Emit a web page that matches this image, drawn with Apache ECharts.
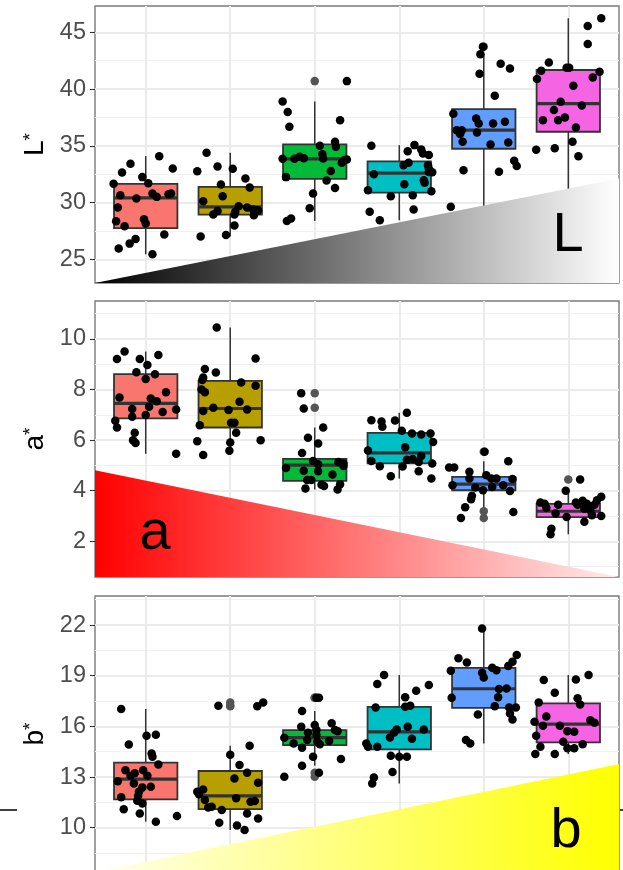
<!DOCTYPE html>
<html><head><meta charset="utf-8">
<script src="https://cdn.jsdelivr.net/npm/echarts@6/dist/echarts.min.js"></script>
<style>html,body{margin:0;padding:0;background:#fff}#c{width:623px;height:870px}</style>
</head><body><div id="c"></div>
<script>
// ---------- data ----------
const groups = [1, 2, 3, 4, 5, 6];

// L*  : box stats [lower whisker, Q1, median, Q3, upper whisker]
const L_box = [
  [25.44, 27.74, 30.41, 31.65, 34.09],
  [27.00, 28.94, 29.62, 31.38, 34.38],
  [28.38, 32.09, 33.85, 35.12, 38.91],
  [28.44, 30.88, 32.59, 33.62, 35.06],
  [29.62, 34.74, 36.38, 38.24, 43.06],
  [30.60, 36.24, 38.71, 41.68, 46.24]
];
const L_outliers = [[3, 40.70], [5, 43.74]];
const L_points = [
  [0.68,25.94],[0.81,26.38],[0.88,26.79],[0.75,27.91],[0.65,28.35],[0.98,28.53],[1.00,28.15],[0.67,29.56],
  [0.70,30.65],[0.62,31.65],[0.72,32.65],[0.82,33.41],[0.96,32.24],[1.03,31.71],[0.89,30.35],[1.08,30.79],
  [1.13,30.50],[1.30,30.79],[1.32,33.00],[1.16,34.09],[1.22,27.18],[1.08,25.44],[1.27,30.74],
  [1.65,27.00],[1.68,30.12],[1.61,32.76],[1.72,34.38],[1.85,33.18],[1.89,31.59],[1.91,30.56],[1.85,29.26],
  [1.80,28.94],[2.03,32.97],[1.95,27.15],[2.05,27.97],[2.05,28.94],[2.10,29.68],[2.06,29.18],[2.18,32.12],
  [2.23,31.32],[2.20,29.56],[2.27,29.38],[2.31,29.32],[2.28,28.88],[2.33,29.30],
  [2.62,38.91],[2.68,37.97],[2.70,36.68],[2.62,33.85],[2.66,32.24],[2.76,33.85],[2.82,34.03],[2.87,33.91],
  [2.67,28.38],[2.72,28.59],[2.94,29.50],[2.98,30.79],[3.06,35.00],[3.09,34.26],[3.10,33.88],[3.14,31.94],
  [3.19,32.79],[3.24,31.29],[3.24,35.35],[3.25,34.91],[3.30,37.26],[3.32,33.50],[3.35,33.74],[3.38,33.79],[3.38,40.70],
  [3.67,35.00],[3.70,32.50],[3.63,31.09],[3.65,29.18],[3.77,28.44],[3.90,30.56],[4.05,33.29],[4.11,33.50],
  [4.06,31.62],[4.10,34.53],[4.16,30.65],[4.17,29.38],[4.18,35.06],[4.26,34.68],[4.28,34.32],[4.35,34.18],
  [4.34,33.29],[4.35,33.00],[4.39,32.68],[4.29,31.97],[4.30,31.74],[4.38,31.00],[4.35,32.70],
  [4.61,29.62],[4.64,37.82],[4.68,36.38],[4.71,36.24],[4.74,36.38],[4.72,36.03],[4.75,35.35],[4.76,32.85],
  [4.91,37.41],[4.94,36.97],[4.92,36.18],[4.95,41.35],[4.96,43.06],[4.99,43.74],[5.08,35.12],[5.11,36.97],
  [5.13,39.41],[5.18,32.71],[5.20,42.24],[5.25,37.12],[5.29,35.29],[5.31,41.82],[5.36,33.68],[5.39,33.21],
  [5.62,34.65],[5.63,40.88],[5.68,41.62],[5.77,42.35],[5.70,37.26],[5.83,38.15],[5.88,37.26],[5.91,38.88],
  [5.96,37.50],[5.84,34.79],[5.98,41.88],[6.01,41.88],[6.06,40.29],[6.05,35.35],[6.09,36.62],[6.12,34.09],
  [6.16,38.56],[6.23,45.56],[6.23,43.97],[6.29,41.03],[6.37,41.53],[6.39,46.24],[5.90,30.60]
];
const L_ticks = [25, 30, 35, 40, 45];
const L_minor = [27.5, 32.5, 37.5, 42.5];

// a*
const a_box = [
  [5.46, 6.86, 7.45, 8.61, 9.50],
  [5.41, 6.50, 7.25, 8.34, 10.45],
  [4.05, 4.39, 5.01, 5.26, 6.50],
  [4.48, 5.08, 5.50, 6.29, 7.08],
  [3.35, 4.02, 4.26, 4.55, 5.17],
  [2.28, 2.96, 3.19, 3.48, 4.00]
];
const a_outliers = [[3, 7.85], [3, 7.28], [5, 5.54], [5, 3.19], [5, 2.92], [6, 4.44]];
const a_points = [
  [0.66,9.21],[0.75,9.50],[0.93,9.21],[1.02,8.97],[1.15,9.37],[0.89,8.68],[1.00,8.42],[1.11,8.60],
  [1.24,7.89],[0.69,7.69],[1.06,7.65],[1.13,7.54],[1.04,7.32],[0.84,7.23],[1.20,7.11],[1.36,7.21],
  [0.84,6.92],[1.00,6.99],[0.64,6.77],[0.66,6.50],[0.87,6.29],[0.85,6.00],[0.88,5.89],[1.36,5.46],
  [1.84,10.45],[1.70,8.81],[1.83,8.67],[1.68,8.48],[1.67,8.38],[2.30,9.23],[2.13,8.28],[2.30,8.15],
  [1.66,8.00],[1.70,7.89],[2.11,7.52],[1.80,7.28],[1.68,7.15],[1.98,7.19],[2.20,7.21],[2.01,6.69],
  [2.05,6.69],[1.64,6.59],[2.07,6.29],[1.61,5.96],[2.00,5.91],[2.36,6.00],[1.99,5.58],[1.68,5.41],
  [2.84,7.85],[2.87,7.25],[3.10,6.50],[2.92,6.09],[3.04,5.87],[2.85,5.49],[2.98,5.18],[2.66,4.90],
  [2.87,4.79],[3.04,5.05],[3.04,4.77],[3.21,4.64],[3.28,5.14],[3.34,4.98],[2.91,4.42],[2.96,4.42],
  [2.89,4.09],[3.08,4.24],[3.11,4.19],[3.30,4.26],[3.27,4.05],[3.34,5.08],
  [3.67,6.79],[3.79,6.74],[3.80,6.53],[3.95,6.78],[4.09,7.08],[4.03,6.37],[4.15,6.26],[4.26,6.22],
  [4.37,6.26],[4.40,5.93],[4.07,5.72],[3.63,5.59],[3.67,5.18],[3.77,4.97],[3.90,4.57],[4.04,4.96],
  [4.09,5.22],[4.16,5.25],[4.23,5.14],[4.26,5.37],[4.23,4.77],[4.39,5.08],[4.38,4.48],
  [4.59,4.92],[4.65,4.92],[4.63,4.22],[4.83,4.75],[4.83,4.48],[4.86,3.80],[4.85,3.66],[4.78,3.35],
  [4.73,2.92],[5.01,5.54],[5.03,4.61],[4.99,4.02],[4.90,4.13],[5.09,4.48],[5.10,4.15],[5.15,4.48],
  [5.23,4.22],[5.29,5.17],[5.31,3.99],[5.34,4.46],[5.35,3.16],
  [5.67,3.53],[5.72,3.49],[5.74,3.33],[5.80,2.50],[5.79,2.28],[5.85,3.10],[5.97,4.00],[5.98,2.96],
  [6.09,3.53],[6.14,4.44],[6.17,3.60],[6.19,3.29],[6.19,2.77],[6.22,3.49],[6.26,3.23],[6.28,3.03],
  [6.31,3.45],[6.34,3.62],[6.39,3.76],[6.39,3.00],[6.11,3.45],[5.88,3.45]
];
const a_ticks = [2, 4, 6, 8, 10];
const a_minor = [1, 3, 5, 7, 9, 11];

// b*
const b_box = [
  [10.36, 11.68, 12.88, 13.85, 17.03],
  [9.86, 11.10, 11.89, 13.36, 14.85],
  [13.67, 14.89, 15.33, 15.78, 16.91],
  [12.62, 14.64, 15.68, 17.16, 19.04],
  [14.99, 17.10, 18.23, 19.47, 21.80],
  [14.36, 15.05, 16.14, 17.36, 19.04]
];
const b_outliers = [[2, 17.42], [2, 17.22], [2, 17.20], [3, 17.70], [3, 17.70], [3, 13.26], [3, 13.02]];
const b_points = [
  [0.71,17.03],[1.01,15.45],[1.12,15.51],[0.80,14.93],[1.07,14.40],[1.08,14.20],[1.15,13.75],[0.76,13.41],
  [0.87,13.22],[0.97,13.41],[0.82,13.08],[1.02,13.08],[0.67,12.76],[0.86,12.62],[0.96,12.39],[1.06,12.43],
  [0.92,12.13],[0.71,11.80],[0.90,11.60],[0.96,11.44],[0.74,11.10],[0.93,10.85],[1.12,10.36],[1.37,10.69],[0.91,11.89],
  [1.86,17.22],[2.32,17.20],[2.39,17.42],[2.23,14.85],[2.00,14.32],[2.11,13.71],[2.20,13.26],[2.05,12.92],
  [2.33,12.66],[1.61,12.13],[1.68,12.27],[1.63,11.99],[1.70,11.64],[2.07,11.74],[2.24,11.54],[2.29,11.58],
  [1.74,11.20],[1.78,11.24],[1.90,11.05],[2.20,10.85],[2.33,10.55],[1.87,10.30],[2.08,10.14],[2.17,9.86],
  [2.85,16.91],[2.64,13.02],[2.85,13.67],[2.98,14.20],[3.31,14.07],[3.02,17.70],[3.05,17.70],[3.05,13.26],
  [2.84,15.98],[3.00,16.08],[3.20,16.18],[3.24,15.78],[2.64,15.33],[2.75,14.99],[2.85,14.74],[2.92,15.62],
  [2.91,15.19],[3.02,15.49],[3.03,15.09],[3.06,14.95],[3.17,15.13],[3.27,15.72],[3.02,15.78],
  [3.82,19.04],[3.74,18.51],[4.20,18.11],[4.35,18.45],[4.07,17.72],[4.07,17.16],[4.13,17.22],[3.72,17.12],
  [3.97,15.82],[3.94,15.64],[4.10,15.98],[4.29,15.82],[3.89,15.35],[4.15,15.27],[3.61,14.99],[3.63,14.80],
  [3.74,14.80],[3.90,14.26],[4.00,14.20],[4.09,14.20],[3.92,13.30],[3.70,12.98],[3.68,12.62],
  [4.98,21.80],[4.70,20.03],[4.80,19.79],[4.61,19.30],[4.98,19.18],[5.00,18.90],[5.10,19.47],[5.15,19.33],
  [5.29,19.57],[5.34,19.83],[5.39,20.22],[5.18,18.21],[5.27,18.25],[5.17,17.72],[4.62,17.70],[5.13,17.20],
  [5.30,17.12],[5.38,17.12],[5.31,16.77],[5.34,16.41],[4.93,16.71],[4.79,15.19],[4.84,14.99],
  [5.71,18.74],[6.09,18.78],[6.24,19.04],[5.84,17.99],[6.11,17.66],[6.14,17.30],[5.65,17.42],[5.74,16.59],
  [5.60,16.28],[5.70,16.04],[5.90,16.04],[5.99,15.72],[6.07,15.68],[6.26,16.37],[6.31,16.22],[5.62,15.45],
  [5.94,15.09],[5.67,14.80],[5.99,14.70],[6.07,14.70],[6.17,14.95],[5.61,14.36],[5.84,14.36]
];
const b_ticks = [10, 13, 16, 19, 22];
const b_minor = [8.5, 11.5, 14.5, 17.5, 20.5, 23.5];

// ---------- styling / layout ----------
const FONT = "'Liberation Sans', Arial, Helvetica, sans-serif";
const boxColors = ['#F8766D', '#B79F00', '#00BA38', '#00BFC4', '#619CFF', '#F564E3'];
const panels = [
  { name: 'L', box: L_box, pts: L_points, out: L_outliers, ticks: L_ticks, minor: L_minor,
    min: 22.91, max: 47.32, top: 6, height: 277,
    wedge: [0.4, 6.6, 22.91, 22.91, 32.12], stops: [[0, '#000000'], [1, '#ffffff']] },
  { name: 'a', box: a_box, pts: a_points, out: a_outliers, ticks: a_ticks, minor: a_minor,
    min: 0.59, max: 11.5, top: 301, height: 276,
    wedge: [0.4, 6.6, 0.59, 4.81, 0.59], stops: [[0, '#ff0000'], [1, '#ffecec']] },
  { name: 'b', box: b_box, pts: b_points, out: b_outliers, ticks: b_ticks, minor: b_minor,
    min: 7.38, max: 23.72, top: 596, height: 276,
    wedge: [0.4, 6.6, 7.38, 7.38, 13.77], stops: [[0, '#ffffee'], [1, '#ffff00']] }
];

function boxRender(params, api) {
  const x = api.value(0);
  const lo = api.coord([x, api.value(1)]);
  const q1 = api.coord([x, api.value(2)]);
  const md = api.coord([x, api.value(3)]);
  const q3 = api.coord([x, api.value(4)]);
  const hi = api.coord([x, api.value(5)]);
  const w = api.size([0.75, 0])[0];
  const cx = q1[0];
  const stroke = '#333333';
  return { type: 'group', children: [
    { type: 'line', shape: { x1: cx, y1: lo[1], x2: cx, y2: q1[1] }, style: { stroke, lineWidth: 1.5 } },
    { type: 'line', shape: { x1: cx, y1: q3[1], x2: cx, y2: hi[1] }, style: { stroke, lineWidth: 1.5 } },
    { type: 'rect', shape: { x: cx - w / 2, y: q3[1], width: w, height: q1[1] - q3[1] },
      style: { fill: boxColors[params.dataIndex], stroke, lineWidth: 1.8 } },
    { type: 'line', shape: { x1: cx - w / 2, y1: md[1], x2: cx + w / 2, y2: md[1] }, style: { stroke, lineWidth: 3.2 } }
  ] };
}

function wedgeRender(stops) {
  return function (params, api) {
    const x0 = api.value(0), x1 = api.value(1), base = api.value(2), lt = api.value(3), rt = api.value(4);
    const pts = [api.coord([x0, base]), api.coord([x0, lt]), api.coord([x1, rt]), api.coord([x1, base])];
    return { type: 'polygon', shape: { points: pts },
      style: { fill: { type: 'linear', x: 0, y: 0, x2: 1, y2: 0, global: false,
        colorStops: stops.map(s => ({ offset: s[0], color: s[1] })) } } };
  };
}

const grid = [], xAxis = [], yAxis = [], series = [];
panels.forEach((p, i) => {
  grid.push({ left: 95, top: p.top, width: 524, height: p.height, show: true,
    borderColor: '#7a7a7a', borderWidth: 1.4, backgroundColor: 'transparent',
    containLabel: false, outerBoundsMode: 'none' });
  xAxis.push({ gridIndex: i, type: 'value', min: 0.4, max: 6.6, minInterval: 1, maxInterval: 1,
    axisLine: { show: false }, axisTick: { show: false, customValues: groups },
    axisLabel: { show: false, customValues: groups },
    splitLine: { show: true, lineStyle: { color: '#ebebeb', width: 2 } } });
  yAxis.push({ gridIndex: i, type: 'value', min: p.min, max: p.max, position: 'left',
    axisLine: { show: false },
    axisTick: { show: true, length: 5, lineStyle: { color: '#333', width: 1.1 }, customValues: p.ticks },
    axisLabel: { show: true, customValues: p.ticks, color: '#4d4d4d', fontSize: 23.5, fontFamily: FONT, margin: 9 },
    splitLine: { show: true, lineStyle: { color: '#ebebeb', width: 2 } },
    name: '{t|' + p.name + '}{s|*}', nameLocation: 'middle', nameRotate: 90, nameGap: 44,
    nameTextStyle: { rich: {
      t: { fontSize: 28, fontFamily: FONT, color: '#000' },
      s: { fontSize: 19, fontFamily: FONT, color: '#000', verticalAlign: 'top' } } } });
  yAxis.push({ gridIndex: i, type: 'value', min: p.min, max: p.max, position: 'right',
    axisLine: { show: false }, axisTick: { show: false, customValues: p.minor },
    axisLabel: { show: false, customValues: p.minor },
    splitLine: { show: true, lineStyle: { color: '#f1f1f1', width: 1.2 } } });

  series.push({ type: 'custom', name: p.name + ' box', xAxisIndex: i, yAxisIndex: 2 * i, z: 2,
    renderItem: boxRender, encode: { x: 0, y: [1, 2, 3, 4, 5] },
    data: p.box.map((b, k) => [groups[k]].concat(b)) });
  series.push({ type: 'scatter', name: p.name + ' outliers', xAxisIndex: i, yAxisIndex: 2 * i, z: 3,
    symbolSize: 8.5, itemStyle: { color: '#555555', opacity: 1 }, data: p.out });
  series.push({ type: 'scatter', name: p.name + ' points', xAxisIndex: i, yAxisIndex: 2 * i, z: 4,
    symbolSize: 8.5, itemStyle: { color: '#000000', opacity: 1 }, data: p.pts });
  series.push({ type: 'custom', name: p.name + ' wedge', xAxisIndex: i, yAxisIndex: 2 * i, z: 5,
    renderItem: wedgeRender(p.stops), encode: { x: [0, 1], y: [2, 3, 4] }, data: [p.wedge] });
});

const letterStyle = { fontSize: 56, fontFamily: FONT, fill: '#000', align: 'center', verticalAlign: 'middle',
  textAlign: 'center', textVerticalAlign: 'middle' };
const option = {
  animation: false,
  backgroundColor: '#ffffff',
  grid, xAxis, yAxis, series,
  graphic: [
    { type: 'text', x: 568, y: 236, z: 100, style: Object.assign({ text: 'L' }, letterStyle) },
    { type: 'text', x: 155, y: 534, z: 100, style: Object.assign({ text: 'a' }, letterStyle) },
    { type: 'text', x: 566, y: 832, z: 100, style: Object.assign({ text: 'b' }, letterStyle) },
    { type: 'line', z: 100, shape: { x1: 0, y1: 810, x2: 17, y2: 810 }, style: { stroke: '#000', lineWidth: 1.5 } },
    { type: 'line', z: 100, shape: { x1: 620, y1: 810, x2: 623, y2: 810 }, style: { stroke: '#000', lineWidth: 1.5 } }
  ]
};
const chart = echarts.init(document.getElementById('c'), null, { renderer: 'canvas' });
chart.setOption(option);
</script>
</body></html>
